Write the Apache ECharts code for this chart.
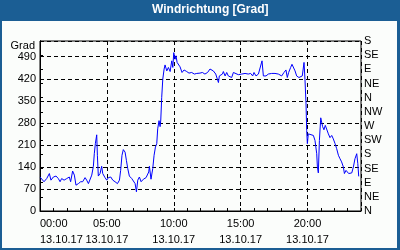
<!DOCTYPE html>
<html><head><meta charset="utf-8">
<script src="https://cdn.jsdelivr.net/npm/echarts@6/dist/echarts.min.js"></script>
<style>html,body{margin:0;padding:0;background:#fff}#c{width:400px;height:250px}</style>
</head><body><div id="c"></div>
<script>
const chartTitle = 'Windrichtung [Grad]';
const unitName = 'Grad';
const dateLabel = '13.10.17';
const directions = ['N','NE','E','SE','S','SW','W','NW','N','NE','E','SE','S'];
const hours = [0.00,0.12,0.30,0.50,0.70,0.82,1.00,1.20,1.37,1.50,1.62,1.80,2.00,2.19,2.29,2.44,2.57,2.69,2.87,3.04,3.19,3.37,3.49,3.62,3.74,3.87,3.99,4.06,4.14,4.24,4.29,4.36,4.49,4.61,4.69,4.86,4.99,5.11,5.29,5.44,5.61,5.79,5.94,6.03,6.13,6.23,6.36,6.46,6.56,6.68,6.86,6.98,7.11,7.21,7.31,7.43,7.56,7.73,7.93,8.03,8.13,8.18,8.30,8.43,8.53,8.63,8.73,8.80,8.90,8.98,9.03,9.10,9.18,9.28,9.35,9.48,9.60,9.73,9.85,9.93,10.00,10.10,10.17,10.25,10.35,10.47,10.62,10.77,10.97,11.14,11.34,11.54,11.72,11.96,12.14,12.33,12.53,12.71,12.84,12.96,13.14,13.26,13.34,13.41,13.54,13.64,13.71,13.84,13.96,14.08,14.21,14.33,14.46,14.58,14.83,15.08,15.33,15.57,15.75,15.90,16.00,16.15,16.33,16.45,16.60,16.70,16.90,17.07,17.32,17.57,17.82,18.07,18.24,18.39,18.49,18.59,18.74,18.84,18.94,19.07,19.19,19.36,19.49,19.61,19.66,19.74,19.81,19.89,19.94,19.99,20.06,20.19,20.44,20.56,20.69,20.74,20.81,20.89,20.99,21.13,21.23,21.33,21.43,21.56,21.68,21.81,21.93,22.06,22.18,22.31,22.43,22.55,22.68,22.76,22.88,22.98,23.08,23.18,23.31,23.43,23.55,23.68,23.76,23.83];
const degrees = [108,114,93,103,119,98,108,111,103,93,103,98,103,108,93,127,114,82,87,93,93,106,98,87,86,114,142,182,214,242,177,111,119,142,119,106,98,106,108,98,93,87,98,129,177,195,187,161,135,111,103,108,87,61,98,108,93,101,106,108,124,142,101,135,177,203,214,261,287,268,289,361,419,451,464,445,456,443,477,456,503,482,493,472,472,458,440,448,443,438,440,435,437,438,440,435,440,451,456,445,435,429,408,429,426,435,443,429,440,429,426,424,440,435,433,435,437,435,437,429,440,429,435,440,477,429,429,435,437,437,435,429,440,448,424,440,456,466,461,445,429,424,419,429,435,472,419,340,256,214,245,240,240,224,182,140,121,224,296,268,258,272,277,245,233,240,229,214,198,177,166,156,140,119,129,135,119,114,121,140,166,182,151,110];

const font = 'Liberation Sans';
const pad = n => (n < 10 ? '0' : '') + n;
const chart = echarts.init(document.getElementById('c'), null, {renderer: 'canvas'});
chart.setOption({
  animation: false,
  backgroundColor: '#1b5e94',
  graphic: [{type: 'rect', z: -100, silent: true, shape: {x: 2, y: 21, width: 395, height: 227}, style: {fill: '#fbfdfb'}}],
  title: {text: chartTitle, left: 152, top: 4, padding: 0,
    textStyle: {color: '#fff', fontSize: 12, fontWeight: 'bold', fontFamily: font}},
  grid: {left: 40, right: 39, top: 41, bottom: 39, show: true, borderColor: '#000', borderWidth: 1, backgroundColor: 'transparent'},
  xAxis: [{
    type: 'value', min: 0, max: 24, interval: 5,
    axisLine: {show: true, lineStyle: {color: '#000', width: 1}},
    axisTick: {show: false},
    axisLabel: {formatter: v => v >= 24 ? '' : pad(v) + ':00\n' + dateLabel, fontSize: 11, lineHeight: 16,
      color: '#000', fontFamily: font, showMaxLabel: false, alignMinLabel: 'left', margin: 5},
    splitLine: {show: true, lineStyle: {color: '#000', type: [4, 3], width: 1}}
  }, {
    type: 'value', min: 0, max: 24, interval: 1, position: 'bottom',
    axisLine: {show: false},
    axisTick: {show: true, inside: true, length: 3, lineStyle: {color: '#000'}},
    axisLabel: {show: false}, splitLine: {show: false}
  }],
  yAxis: [{
    type: 'value', min: 0, max: 540, interval: 70,
    name: unitName, nameLocation: 'end', nameGap: -5,
    nameTextStyle: {align: 'right', verticalAlign: 'middle', padding: [0, 5, 0, 0], color: '#000', fontSize: 11, fontFamily: font},
    axisLine: {show: true, lineStyle: {color: '#000'}},
    axisTick: {show: false},
    axisLabel: {showMaxLabel: false, margin: 4, color: '#000', fontSize: 11, fontFamily: font},
    splitLine: {show: true, lineStyle: {color: '#000', type: [4, 3], width: 1}}
  }, {
    type: 'value', position: 'right', min: 0, max: 540, interval: 45,
    axisLine: {show: true, lineStyle: {color: '#000'}},
    axisTick: {show: true, length: 3, lineStyle: {color: '#000'}},
    axisLabel: {formatter: v => directions[Math.round(v / 45)], margin: 3, color: '#000', fontSize: 11, fontFamily: font},
    splitLine: {show: false}
  }],
  series: [{
    type: 'line', xAxisIndex: 0, yAxisIndex: 0,
    data: hours.map((h, i) => [h, degrees[i]]),
    showSymbol: false, symbol: 'none',
    lineStyle: {color: '#0000ff', width: 1}
  }]
});
</script></body></html>
